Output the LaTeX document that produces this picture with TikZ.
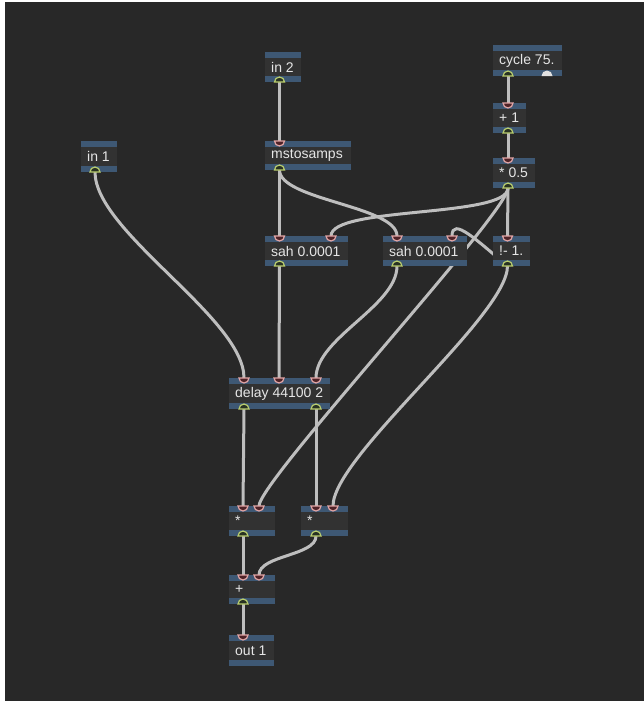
\documentclass[tikz,border=0pt]{standalone}
\usepackage{fontspec}
\setmainfont{Liberation Sans}
\definecolor{bgc}{RGB}{40,40,40}
\definecolor{bodyc}{RGB}{50,50,50}
\definecolor{barc}{RGB}{62,88,116}
\definecolor{wirec}{RGB}{190,190,190}
\definecolor{txtc}{RGB}{230,230,230}
\definecolor{inc}{RGB}{225,165,165}
\definecolor{infill}{RGB}{80,35,40}
\definecolor{outc}{RGB}{185,205,110}
\definecolor{outfill}{RGB}{40,50,35}
\definecolor{dialc}{RGB}{225,225,225}
\pgfdeclarelayer{back}
\pgfdeclarelayer{wirelayer}
\pgfsetlayers{back,wirelayer,main}
\tikzset{
  objbody/.style={fill=bodyc, inner sep=0pt, outer sep=0pt, draw=none},
  objtext/.style={text=txtc, font=\fontsize{14}{15}\selectfont, inner sep=0pt},
  wire/.style={draw=wirec, line width=3pt, line cap=round},
  inport/.style={draw=inc, fill=infill, line width=1.2pt},
  outport/.style={draw=outc, fill=outfill, line width=1.2pt},
}
% name, x, y, width, height, text
\newcommand\maxobj[6]{%
  \node[objbody, minimum width=#4pt, minimum height=#5pt, anchor=north west] (#1) at (#2,#3) {};
  \fill[barc] (#1.north west) rectangle ([yshift=-6pt]#1.north east);
  \fill[barc] ([yshift=6pt]#1.south west) rectangle (#1.south east);
  \node[objtext, anchor=west] (#1-t) at ([xshift=6pt]#1.west) {#6};
}
% coordinate name, box, dx
\newcommand\inpt[3]{%
  \coordinate (#1) at ([xshift=#3pt]#2.north west);
  \draw[inport] ([xshift=-5pt]#1) arc[start angle=180, end angle=360, radius=5pt] -- cycle;
}
\newcommand\outpt[3]{%
  \coordinate (#1) at ([xshift=#3pt]#2.south west);
  \draw[outport] ([xshift=-5pt]#1) arc[start angle=180, end angle=0, radius=5pt] -- cycle;
}
\begin{document}
\begin{tikzpicture}[x=1pt, y=-1pt]
\useasboundingbox (0,0) rectangle (644,701);
\begin{pgfonlayer}{back}
  \fill[white] (0,0) rectangle (644,701);
  \fill[bgc] (5,2) rectangle (644,701);
\end{pgfonlayer}

% objects
\maxobj{in2}{265}{52}{36}{30}{in 2}
\maxobj{mst}{265}{141}{86}{29}{mstosamps}
\maxobj{cyc}{493}{45}{69}{31}{cycle 75.}
\maxobj{pone}{493}{103}{33}{30}{+ 1}
\maxobj{half}{493}{158}{42}{30}{* 0.5}
\maxobj{in1}{81}{141}{36}{31}{in 1}
\maxobj{sah1}{265}{236}{83}{30}{sah 0.0001}
\maxobj{sah2}{383}{236}{84}{30}{sah 0.0001}
\maxobj{rsub}{493}{236}{37}{30}{!- 1.}
\maxobj{dly}{229}{378}{101}{31}{delay 44100 2}
\maxobj{mula}{229}{506}{46}{30}{*}
\maxobj{mulb}{301}{506}{47}{30}{*}
\maxobj{add}{229}{575}{46}{29}{+}
\maxobj{out1}{229}{635}{45}{31}{out 1}

% dial on cycle
\coordinate (cyc-dial) at ([xshift=54pt]cyc.south west);
\fill[dialc] ([xshift=-5.5pt]cyc-dial) arc[start angle=180, end angle=0, radius=5.5pt] -- cycle;

% ports
\outpt{in2-o}{in2}{14.5}
\inpt{mst-i}{mst}{14.5}
\outpt{mst-o}{mst}{14.5}
\outpt{cyc-o}{cyc}{15}
\inpt{pone-i}{pone}{15}
\outpt{pone-o}{pone}{15}
\inpt{half-i}{half}{15}
\outpt{half-o}{half}{15}
\outpt{in1-o}{in1}{14}
\inpt{sah1-i1}{sah1}{14.5}
\inpt{sah1-i2}{sah1}{66}
\outpt{sah1-o}{sah1}{14.5}
\inpt{sah2-i1}{sah2}{14}
\inpt{sah2-i2}{sah2}{69}
\outpt{sah2-o}{sah2}{14}
\inpt{rsub-i}{rsub}{14.5}
\outpt{rsub-o}{rsub}{14.5}
\inpt{dly-i1}{dly}{15}
\inpt{dly-i2}{dly}{50}
\inpt{dly-i3}{dly}{87}
\outpt{dly-o1}{dly}{15}
\outpt{dly-o2}{dly}{87}
\inpt{mula-i1}{mula}{14}
\inpt{mula-i2}{mula}{30}
\outpt{mula-o}{mula}{14}
\inpt{mulb-i1}{mulb}{15}
\inpt{mulb-i2}{mulb}{32}
\outpt{mulb-o}{mulb}{15}
\inpt{add-i1}{add}{14}
\inpt{add-i2}{add}{30}
\outpt{add-o}{add}{14}
\inpt{out1-i}{out1}{14}

% wires
\begin{pgfonlayer}{wirelayer}
  \draw[wire] (in2-o) -- (mst-i);
  \draw[wire] (cyc-o) -- (pone-i);
  \draw[wire] (pone-o) -- (half-i);
  \draw[wire] (mst-o) -- (sah1-i1);
  \draw[wire] (mst-o) .. controls +(0,30) and +(0,-30) .. (sah2-i1);
  \draw[wire] (half-o) .. controls +(0,30) and +(0,-30) .. (sah1-i2);
  \draw[wire] (half-o) -- (rsub-i);
  \draw[wire] (half-o) .. controls +(0,25) and +(0,-25) .. (mula-i2);
  \draw[wire] (rsub-o) .. controls +(-30,-25) and +(0,-20) .. (sah2-i2);
  \draw[wire] (rsub-o) .. controls +(0,50) and +(0,-50) .. (mulb-i2);
  \draw[wire] (in1-o) .. controls +(0,60) and +(0,-60) .. (dly-i1);
  \draw[wire] (sah1-o) -- (dly-i2);
  \draw[wire] (sah2-o) .. controls +(0,40) and +(0,-40) .. (dly-i3);
  \draw[wire] (dly-o1) -- (mula-i1);
  \draw[wire] (dly-o2) -- (mulb-i1);
  \draw[wire] (mula-o) -- (add-i1);
  \draw[wire] (mulb-o) .. controls +(0,20) and +(0,-20) .. (add-i2);
  \draw[wire] (add-o) -- (out1-i);
\end{pgfonlayer}
\end{tikzpicture}
\end{document}
